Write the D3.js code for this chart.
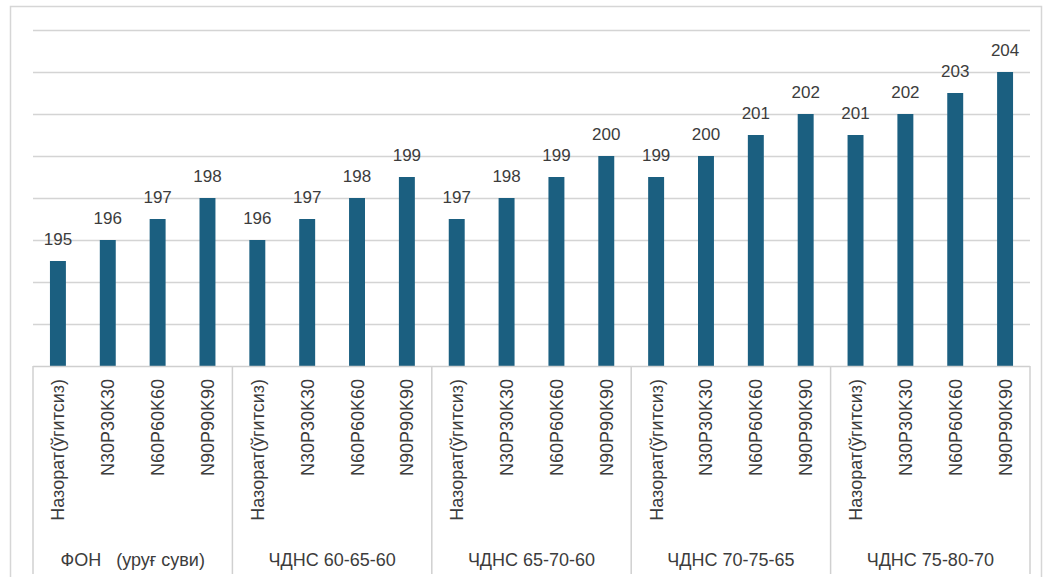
<!DOCTYPE html>
<html>
<head>
<meta charset="utf-8">
<script src="https://cdn.jsdelivr.net/npm/d3@7"></script>
<style>
  html, body { margin: 0; padding: 0; background: #ffffff; }
  svg { display: block; }
  text { font-family: "Liberation Sans", Arial, sans-serif; fill: #3c3c3c; }
</style>
</head>
<body>
<svg id="chart" width="1047" height="577"></svg>
<script>
// Treatment groups (outer category level) and fertilizer rates (inner level)
const groups = ["ФОН   (уруғ суви)", "ЧДНС 60-65-60", "ЧДНС 65-70-60", "ЧДНС 70-75-65", "ЧДНС 75-80-70"];
const treatments = ["Назорат(ўгитсиз)", "N30P30K30", "N60P60K60", "N90P90K90"];

// Values per group, one per treatment
const values = [
  [195, 196, 197, 198],
  [196, 197, 198, 199],
  [197, 198, 199, 200],
  [199, 200, 201, 202],
  [201, 202, 203, 204]
];

// Value axis extent and gridline ticks
const yDomain = [190, 206];
const gridTicks = [192, 194, 196, 198, 200, 202, 204, 206];

const rows = [];
groups.forEach((g, gi) => {
  treatments.forEach((t, ti) => {
    rows.push({ key: gi + "-" + ti, group: g, gi: gi, treatment: t, value: values[gi][ti] });
  });
});

const svg = d3.select("#chart");

const plot = { left: 33, right: 1030, top: 30, bottom: 366 };

const x = d3.scaleBand()
  .domain(rows.map(d => d.key))
  .range([plot.left, plot.right])
  .paddingInner(0.68)
  .paddingOuter(0.34);

const y = d3.scaleLinear()
  .domain(yDomain)
  .range([plot.bottom, plot.top]);

// Outer frame
svg.append("rect")
  .attr("x", 10.5).attr("y", 6.5)
  .attr("width", 1031).attr("height", 600)
  .attr("fill", "none")
  .attr("stroke", "#d6d6d6")
  .attr("stroke-width", 1.5);

// Horizontal gridlines
svg.append("g")
  .selectAll("line")
  .data(gridTicks)
  .join("line")
  .attr("x1", plot.left).attr("x2", plot.right)
  .attr("y1", d => Math.round(y(d)) + 0.5)
  .attr("y2", d => Math.round(y(d)) + 0.5)
  .attr("stroke", "#d4d4d4")
  .attr("stroke-width", 1.5);

// Bars
svg.append("g")
  .selectAll("rect")
  .data(rows)
  .join("rect")
  .attr("x", d => x(d.key))
  .attr("width", x.bandwidth())
  .attr("y", d => y(d.value))
  .attr("height", d => y(yDomain[0]) - y(d.value))
  .attr("fill", "#1b5f80");

// Value labels
svg.append("g")
  .selectAll("text")
  .data(rows)
  .join("text")
  .attr("x", d => x(d.key) + x.bandwidth() / 2)
  .attr("y", d => y(d.value) - 16)
  .attr("text-anchor", "middle")
  .style("font-size", "17px")
  .text(d => d.value);

// Category axis baseline
svg.append("line")
  .attr("x1", plot.left).attr("x2", plot.right)
  .attr("y1", plot.bottom + 0.5).attr("y2", plot.bottom + 0.5)
  .attr("stroke", "#cfcfcf")
  .attr("stroke-width", 1.5);

// Group separators (multi-level category axis)
const step = x.step();
const boundaries = d3.range(groups.length + 1).map(i => plot.left + i * step * treatments.length);
svg.append("g")
  .selectAll("line")
  .data(boundaries)
  .join("line")
  .attr("x1", d => d).attr("x2", d => d)
  .attr("y1", plot.bottom).attr("y2", 574)
  .attr("stroke", "#d0d0d0")
  .attr("stroke-width", 1.5);

// Rotated treatment labels
svg.append("g")
  .selectAll("text")
  .data(rows)
  .join("text")
  .attr("transform", d => `translate(${x(d.key) + x.bandwidth() / 2 + 6.5},379) rotate(-90)`)
  .attr("text-anchor", "end")
  .style("font-size", "18px")
  .text(d => d.treatment);

// Group labels
svg.append("g")
  .selectAll("text")
  .data(groups)
  .join("text")
  .attr("x", (d, i) => (boundaries[i] + boundaries[i + 1]) / 2)
  .attr("y", 566)
  .attr("text-anchor", "middle")
  .style("font-size", "18px")
  .style("white-space", "pre")
  .attr("xml:space", "preserve")
  .text(d => d);
</script>
</body>
</html>
